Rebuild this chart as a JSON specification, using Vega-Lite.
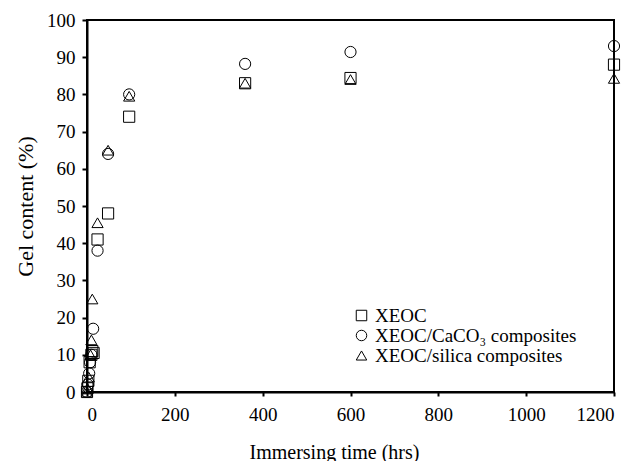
{
  "$schema": "https://vega.github.io/schema/vega-lite/v6.json",
  "width": 527,
  "height": 372,
  "autosize": {"type": "none"},
  "padding": {"left": 87, "top": 20, "right": 30, "bottom": 69},
  "background": "white",
  "config": {
    "font": "Liberation Serif",
    "view": {"stroke": "black", "strokeWidth": 2},
    "axis": {
      "grid": false,
      "domainColor": "black",
      "domainWidth": 2,
      "tickColor": "black",
      "tickWidth": 2,
      "tickSize": 4,
      "labelFont": "Liberation Serif",
      "labelFontSize": 19,
      "labelColor": "black",
      "titleFont": "Liberation Serif",
      "titleFontWeight": "normal",
      "titleColor": "black"
    }
  },
  "data": {
    "values": [
      {"series": "XEOC", "t": 0, "gel": 0},
      {"series": "XEOC", "t": 1, "gel": 1},
      {"series": "XEOC", "t": 3, "gel": 3},
      {"series": "XEOC", "t": 6, "gel": 8},
      {"series": "XEOC", "t": 10, "gel": 10},
      {"series": "XEOC", "t": 12, "gel": 11},
      {"series": "XEOC", "t": 15, "gel": 10.5},
      {"series": "XEOC", "t": 24, "gel": 41},
      {"series": "XEOC", "t": 48, "gel": 48},
      {"series": "XEOC", "t": 96, "gel": 74},
      {"series": "XEOC", "t": 360, "gel": 83},
      {"series": "XEOC", "t": 600, "gel": 84.4},
      {"series": "XEOC", "t": 1200, "gel": 88},
      {"series": "XEOC/CaCO₃ composites", "t": 0, "gel": 0},
      {"series": "XEOC/CaCO₃ composites", "t": 2, "gel": 2},
      {"series": "XEOC/CaCO₃ composites", "t": 5, "gel": 5},
      {"series": "XEOC/CaCO₃ composites", "t": 7, "gel": 8},
      {"series": "XEOC/CaCO₃ composites", "t": 10, "gel": 10},
      {"series": "XEOC/CaCO₃ composites", "t": 14, "gel": 17},
      {"series": "XEOC/CaCO₃ composites", "t": 24, "gel": 38},
      {"series": "XEOC/CaCO₃ composites", "t": 48, "gel": 64},
      {"series": "XEOC/CaCO₃ composites", "t": 96, "gel": 80},
      {"series": "XEOC/CaCO₃ composites", "t": 360, "gel": 88.2},
      {"series": "XEOC/CaCO₃ composites", "t": 600, "gel": 91.4},
      {"series": "XEOC/CaCO₃ composites", "t": 1200, "gel": 93},
      {"series": "XEOC/silica composites", "t": 0, "gel": 0},
      {"series": "XEOC/silica composites", "t": 1, "gel": 1},
      {"series": "XEOC/silica composites", "t": 4, "gel": 4},
      {"series": "XEOC/silica composites", "t": 8, "gel": 10},
      {"series": "XEOC/silica composites", "t": 10, "gel": 14},
      {"series": "XEOC/silica composites", "t": 12, "gel": 25},
      {"series": "XEOC/silica composites", "t": 24, "gel": 45.5},
      {"series": "XEOC/silica composites", "t": 48, "gel": 65},
      {"series": "XEOC/silica composites", "t": 96, "gel": 79.5},
      {"series": "XEOC/silica composites", "t": 360, "gel": 83},
      {"series": "XEOC/silica composites", "t": 600, "gel": 84},
      {"series": "XEOC/silica composites", "t": 1200, "gel": 84.3}
    ]
  },
  "mark": {"type": "point", "filled": false, "stroke": "black", "strokeWidth": 1, "size": 125, "opacity": 1, "clip": false},
  "encoding": {
    "x": {
      "field": "t", "type": "quantitative",
      "scale": {"domain": [0, 1200], "nice": false, "zero": true},
      "axis": {"values": [0, 200, 400, 600, 800, 1000, 1200], "format": "d", "title": "Immersing time (hrs)", "titleFontSize": 20, "titlePadding": 18, "titleX": 247, "labelPadding": 9}
    },
    "y": {
      "field": "gel", "type": "quantitative",
      "scale": {"domain": [0, 100], "nice": false},
      "axis": {"values": [0, 10, 20, 30, 40, 50, 60, 70, 80, 90, 100], "title": "Gel content (%)", "titleFontSize": 22, "titlePadding": 9, "labelPadding": 7, "tickSize": 5}
    },
    "shape": {
      "field": "series", "type": "nominal",
      "scale": {"domain": ["XEOC", "XEOC/CaCO₃ composites", "XEOC/silica composites"], "range": ["square", "circle", "triangle-up"]},
      "legend": {
        "title": null,
        "orient": "none",
        "legendX": 265,
        "legendY": 286,
        "padding": 0,
        "labelFont": "Liberation Serif",
        "labelFontSize": 19,
        "labelColor": "black",
        "labelLimit": 400,
        "symbolStrokeColor": "black",
        "symbolFillColor": "transparent",
        "symbolSize": 110,
        "symbolStrokeWidth": 1,
        "rowPadding": 0,
        "labelOffset": 4
      }
    }
  }
}
